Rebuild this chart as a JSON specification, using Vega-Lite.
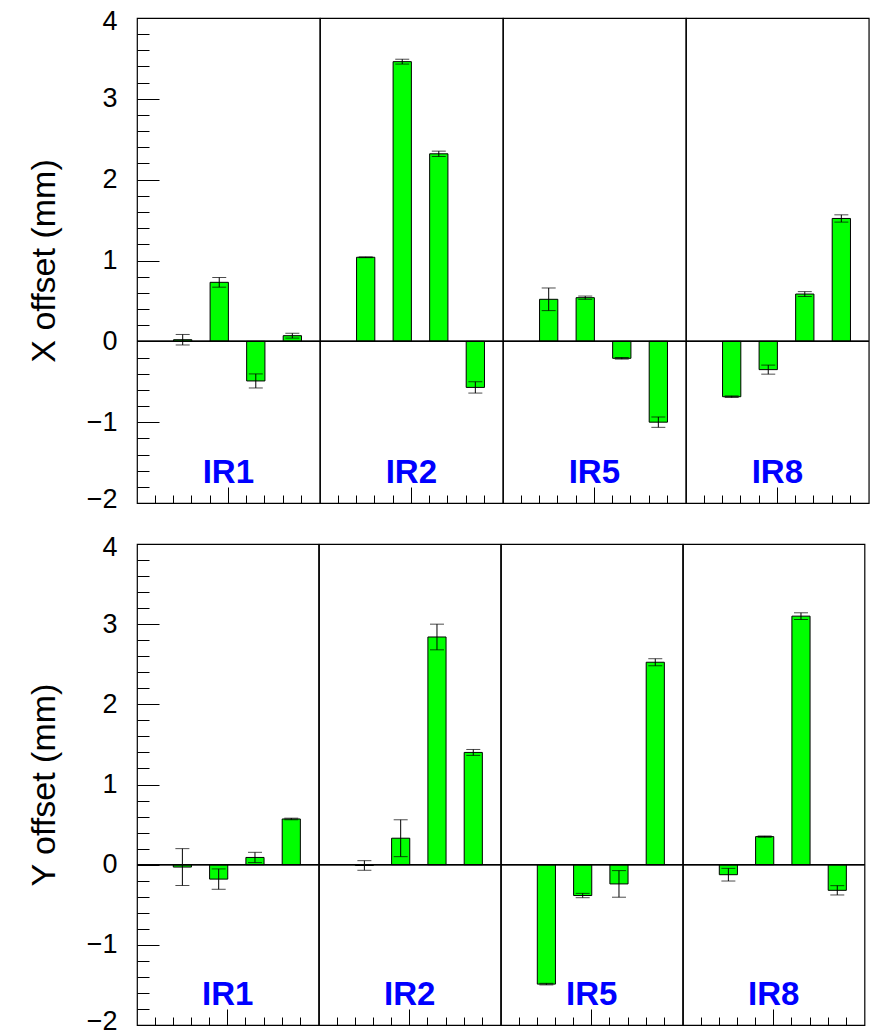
{
  "$schema": "https://vega.github.io/schema/vega-lite/v6.json",
  "background": "white",
  "padding": {"left": 27, "top": 7, "right": 5, "bottom": 0},
  "config": {
    "font": "Liberation Sans",
    "view": {"stroke": "black", "strokeWidth": 1.2},
    "axis": {"domain": false, "grid": false, "tickColor": "black", "tickWidth": 1, "labelColor": "black", "titleColor": "black", "labelFont": "Liberation Sans", "titleFont": "Liberation Sans", "labelOverlap": false, "labelFlush": false}
  },
  "datasets": {
    "offsets": [
      {"panel": "X", "ir": "IR1", "bin": 2, "value": 0.02, "err": 0.065},
      {"panel": "X", "ir": "IR1", "bin": 4, "value": 0.73, "err": 0.06},
      {"panel": "X", "ir": "IR1", "bin": 6, "value": -0.49, "err": 0.087},
      {"panel": "X", "ir": "IR1", "bin": 8, "value": 0.07, "err": 0.03},
      {"panel": "X", "ir": "IR2", "bin": 2, "value": 1.04, "err": 0.005},
      {"panel": "X", "ir": "IR2", "bin": 4, "value": 3.46, "err": 0.03},
      {"panel": "X", "ir": "IR2", "bin": 6, "value": 2.32, "err": 0.033},
      {"panel": "X", "ir": "IR2", "bin": 8, "value": -0.57, "err": 0.07},
      {"panel": "X", "ir": "IR5", "bin": 2, "value": 0.52, "err": 0.14},
      {"panel": "X", "ir": "IR5", "bin": 4, "value": 0.54, "err": 0.02},
      {"panel": "X", "ir": "IR5", "bin": 6, "value": -0.21, "err": 0.01},
      {"panel": "X", "ir": "IR5", "bin": 8, "value": -1.0, "err": 0.064},
      {"panel": "X", "ir": "IR8", "bin": 2, "value": -0.685, "err": 0.01},
      {"panel": "X", "ir": "IR8", "bin": 4, "value": -0.35, "err": 0.056},
      {"panel": "X", "ir": "IR8", "bin": 6, "value": 0.585, "err": 0.03},
      {"panel": "X", "ir": "IR8", "bin": 8, "value": 1.52, "err": 0.045},
      {"panel": "Y", "ir": "IR1", "bin": 2, "value": -0.03, "err": 0.23},
      {"panel": "Y", "ir": "IR1", "bin": 4, "value": -0.18, "err": 0.127},
      {"panel": "Y", "ir": "IR1", "bin": 6, "value": 0.09, "err": 0.064},
      {"panel": "Y", "ir": "IR1", "bin": 8, "value": 0.57, "err": 0.01},
      {"panel": "Y", "ir": "IR2", "bin": 2, "value": -0.01, "err": 0.06},
      {"panel": "Y", "ir": "IR2", "bin": 4, "value": 0.33, "err": 0.23},
      {"panel": "Y", "ir": "IR2", "bin": 6, "value": 2.84, "err": 0.16},
      {"panel": "Y", "ir": "IR2", "bin": 8, "value": 1.40, "err": 0.037},
      {"panel": "Y", "ir": "IR5", "bin": 2, "value": -1.49, "err": 0.01},
      {"panel": "Y", "ir": "IR5", "bin": 4, "value": -0.385, "err": 0.027},
      {"panel": "Y", "ir": "IR5", "bin": 6, "value": -0.24, "err": 0.166},
      {"panel": "Y", "ir": "IR5", "bin": 8, "value": 2.525, "err": 0.044},
      {"panel": "Y", "ir": "IR8", "bin": 2, "value": -0.125, "err": 0.079},
      {"panel": "Y", "ir": "IR8", "bin": 4, "value": 0.35, "err": 0.008},
      {"panel": "Y", "ir": "IR8", "bin": 6, "value": 3.1, "err": 0.042},
      {"panel": "Y", "ir": "IR8", "bin": 8, "value": -0.32, "err": 0.058}
    ]
  },
  "spacing": 21,
  "vconcat": [
    {
      "data": {"name": "offsets"},
      "transform": [{"filter": "datum.panel === 'X'"}],
      "facet": {"column": {"field": "ir", "type": "nominal", "header": null, "sort": ["IR1", "IR2", "IR5", "IR8"]}},
      "spacing": 0,
      "bounds": "flush",
      "spec": {
        "width": 182.75,
        "height": 485,
        "resolve": {"axis": {"x": "independent", "y": "independent"}},
        "layer": [
          {
            "mark": {"type": "bar", "fill": "#00ff00", "stroke": "black", "strokeWidth": 1},
            "encoding": {
              "x": {"field": "bin", "type": "ordinal", "scale": {"type": "band", "domain": [0, 1, 2, 3, 4, 5, 6, 7, 8, 9], "paddingInner": 0, "paddingOuter": 0}, "axis": {"orient": "bottom", "values": [5], "bandPosition": 0, "tickExtra": false, "labels": false, "tickSize": -16, "title": null}},
              "y": {"field": "value", "type": "quantitative", "scale": {"domain": [-2, 4], "nice": false, "zero": false}, "axis": {"orient": "left", "values": [-2, -1, 0, 1, 2, 3, 4], "ticks": false, "labelFontSize": 27, "labelPadding": 20, "labelFlush": true, "labelFlushOffset": 10, "title": "X offset (mm)", "titleFontSize": 34, "titleFontWeight": "normal", "titlePadding": 25}},
              "y2": {"datum": 0}
            }
          },
          {
            "mark": {"type": "errorbar", "color": "black", "thickness": 1, "ticks": {"size": 14, "color": "black"}},
            "encoding": {
              "x": {"field": "bin", "type": "ordinal", "axis": null},
              "y": {"field": "value", "type": "quantitative", "axis": null},
              "yError": {"field": "err"}
            }
          },
          {
            "mark": {"type": "rule", "color": "black", "strokeWidth": 1.2},
            "encoding": {
              "y": {"datum": 0, "type": "quantitative", "axis": {"orient": "left", "values": [-2, -1, 0, 1, 2, 3, 4], "labels": false, "tickSize": -22, "title": null}}
            }
          },
          {
            "transform": [{"filter": "datum.bin === 2"}],
            "mark": {"type": "text", "color": "#0000ff", "font": "Liberation Sans", "fontWeight": "bold", "fontSize": 33, "align": "center", "baseline": "alphabetic"},
            "encoding": {
              "x": {"datum": 5, "type": "ordinal", "bandPosition": 0, "axis": {"orient": "bottom", "values": [1, 2, 3, 4, 6, 7, 8, 9], "bandPosition": 0, "tickExtra": false, "labels": false, "tickSize": -8, "title": null}},
              "y": {"datum": -1.75, "type": "quantitative", "axis": {"orient": "left", "values": [-1.8, -1.6, -1.4, -1.2, -0.8, -0.6, -0.4, -0.2, 0.2, 0.4, 0.6, 0.8, 1.2, 1.4, 1.6, 1.8, 2.2, 2.4, 2.6, 2.8, 3.2, 3.4, 3.6, 3.8], "labels": false, "tickSize": -12, "title": null}},
              "text": {"field": "ir"}
            }
          }
        ]
      }
    },
    {
      "data": {"name": "offsets"},
      "transform": [{"filter": "datum.panel === 'Y'"}],
      "facet": {"column": {"field": "ir", "type": "nominal", "header": null, "sort": ["IR1", "IR2", "IR5", "IR8"]}},
      "spacing": 0,
      "bounds": "flush",
      "spec": {
        "width": 181.5,
        "height": 481,
        "resolve": {"axis": {"x": "independent", "y": "independent"}},
        "layer": [
          {
            "mark": {"type": "bar", "fill": "#00ff00", "stroke": "black", "strokeWidth": 1},
            "encoding": {
              "x": {"field": "bin", "type": "ordinal", "scale": {"type": "band", "domain": [0, 1, 2, 3, 4, 5, 6, 7, 8, 9], "paddingInner": 0, "paddingOuter": 0}, "axis": {"orient": "bottom", "values": [5], "bandPosition": 0, "tickExtra": false, "labels": false, "tickSize": -16, "title": null}},
              "y": {"field": "value", "type": "quantitative", "scale": {"domain": [-2, 4], "nice": false, "zero": false}, "axis": {"orient": "left", "values": [-2, -1, 0, 1, 2, 3, 4], "ticks": false, "labelFontSize": 27, "labelPadding": 20, "labelFlush": true, "labelFlushOffset": 10, "title": "Y offset (mm)", "titleFontSize": 34, "titleFontWeight": "normal", "titlePadding": 25}},
              "y2": {"datum": 0}
            }
          },
          {
            "mark": {"type": "errorbar", "color": "black", "thickness": 1, "ticks": {"size": 14, "color": "black"}},
            "encoding": {
              "x": {"field": "bin", "type": "ordinal", "axis": null},
              "y": {"field": "value", "type": "quantitative", "axis": null},
              "yError": {"field": "err"}
            }
          },
          {
            "mark": {"type": "rule", "color": "black", "strokeWidth": 1.2},
            "encoding": {
              "y": {"datum": 0, "type": "quantitative", "axis": {"orient": "left", "values": [-2, -1, 0, 1, 2, 3, 4], "labels": false, "tickSize": -22, "title": null}}
            }
          },
          {
            "transform": [{"filter": "datum.bin === 2"}],
            "mark": {"type": "text", "color": "#0000ff", "font": "Liberation Sans", "fontWeight": "bold", "fontSize": 33, "align": "center", "baseline": "alphabetic"},
            "encoding": {
              "x": {"datum": 5, "type": "ordinal", "bandPosition": 0, "axis": {"orient": "bottom", "values": [1, 2, 3, 4, 6, 7, 8, 9], "bandPosition": 0, "tickExtra": false, "labels": false, "tickSize": -8, "title": null}},
              "y": {"datum": -1.75, "type": "quantitative", "axis": {"orient": "left", "values": [-1.8, -1.6, -1.4, -1.2, -0.8, -0.6, -0.4, -0.2, 0.2, 0.4, 0.6, 0.8, 1.2, 1.4, 1.6, 1.8, 2.2, 2.4, 2.6, 2.8, 3.2, 3.4, 3.6, 3.8], "labels": false, "tickSize": -12, "title": null}},
              "text": {"field": "ir"}
            }
          }
        ]
      }
    }
  ]
}
